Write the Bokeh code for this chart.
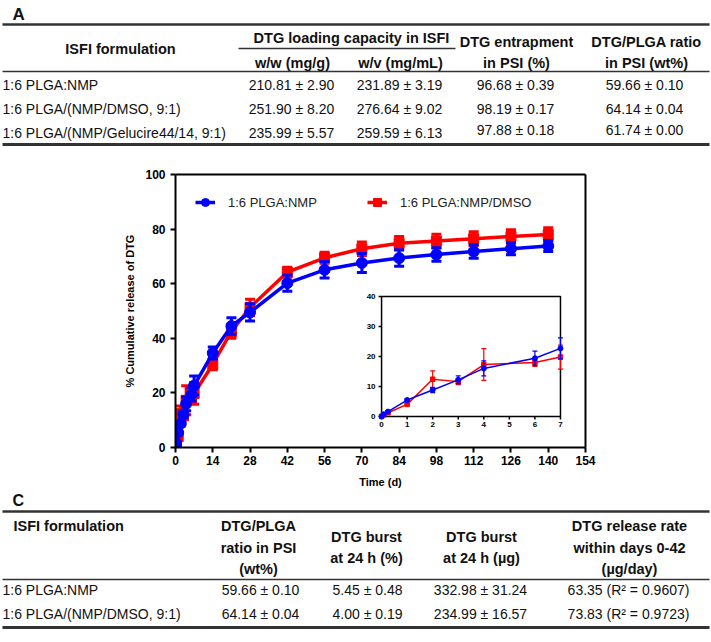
import numpy as np
import pandas as pd
from bokeh.plotting import figure
from bokeh.layouts import column, row
from bokeh.models import (ColumnDataSource, Range1d, LinearAxis, FixedTicker,
                          Legend, LegendItem)
from bokeh.core.properties import value
from bokeh.embed import file_html
from bokeh.resources import INLINE

# ====================== DATA ======================
# --- Table A ---
A_formulation = ["1:6 PLGA:NMP", "1:6 PLGA/(NMP/DMSO, 9:1)", "1:6 PLGA/(NMP/Gelucire44/14, 9:1)"]
A_ww = ["210.81 ± 2.90", "251.90 ± 8.20", "235.99 ± 5.57"]
A_wv = ["231.89 ± 3.19", "276.64 ± 9.02", "259.59 ± 6.13"]
A_entrap = ["96.68 ± 0.39", "98.19 ± 0.17", "97.88 ± 0.18"]
A_ratio = ["59.66 ± 0.10", "64.14 ± 0.04", "61.74 ± 0.00"]

# --- Table C ---
C_formulation = ["1:6 PLGA:NMP", "1:6 PLGA/(NMP/DMSO, 9:1)"]
C_ratio = ["59.66 ± 0.10", "64.14 ± 0.04"]
C_burst_pct = ["5.45 ± 0.48", "4.00 ± 0.19"]
C_burst_ug = ["332.98 ± 31.24", "234.99 ± 16.57"]
C_rate = ["63.35 (R² = 0.9607)", "73.83 (R² = 0.9723)"]

# --- Chart B: cumulative release (%) ---
time_d = [0, 0.083, 0.25, 1, 2, 3, 4, 6, 7, 14, 21, 28, 42, 56, 70, 84, 98, 112, 126, 140]
nmp_mean = [0.0, 0.7, 1.6, 5.45, 8.8, 12.2, 16.0, 19.4, 22.7, 34.6, 44.5, 49.5,
            60.2, 65.1, 67.6, 69.4, 70.7, 71.8, 72.8, 73.8]
nmp_sd = [0.0, 0.2, 0.3, 0.48, 0.9, 1.3, 2.5, 2.4, 3.5, 2.2, 3.0, 3.2,
          3.0, 3.0, 3.5, 3.0, 2.5, 2.5, 2.2, 2.0]
dmso_mean = [0.0, 0.5, 1.2, 4.00, 12.4, 11.6, 17.3, 18.0, 19.8, 30.5, 42.5, 51.3,
             64.2, 69.5, 72.8, 74.8, 75.6, 76.5, 77.3, 78.0]
dmso_sd = [0.0, 0.2, 0.3, 0.19, 2.8, 1.0, 5.3, 1.3, 4.0, 2.0, 2.5, 3.0,
           1.8, 2.0, 2.5, 2.5, 2.5, 2.5, 2.5, 2.5]
series_labels = ["1:6 PLGA:NMP", "1:6 PLGA:NMP/DMSO"]

x_ticks = [0, 14, 28, 42, 56, 70, 84, 98, 112, 126, 140, 154]
y_ticks = [0, 20, 40, 60, 80, 100]
inset_x_ticks = [0, 1, 2, 3, 4, 5, 6, 7]
inset_y_ticks = [0, 10, 20, 30, 40]

# ====================== STYLE / LAYOUT ======================
FONT = "Liberation Sans"
BLUE = "#0000ff"
RED = "#ff0000"
INK = "#111111"
RULE = "#333333"
W = 711


def table_fig(top, bottom):
    p = figure(width=W, height=bottom - top, x_range=Range1d(0, W),
               y_range=Range1d(bottom, top), output_backend="svg",
               toolbar_location=None, x_axis_type=None, y_axis_type=None,
               min_border=0, outline_line_color=None)
    p.grid.visible = False
    return p


def txt(p, xs, ys, texts, align="center", bold=False, size="14px"):
    src = ColumnDataSource(dict(x=list(xs), y=list(ys), t=list(texts)))
    p.text(x="x", y="y", text="t", source=src, text_align=align,
           text_baseline="middle", text_font=value(FONT), text_font_size=size,
           text_font_style="bold" if bold else "normal", text_color=INK)


def rule(p, y, x0=2, x1=709, lw=1.3):
    p.segment(x0=[x0], y0=[y], x1=[x1], y1=[y], line_color=RULE, line_width=lw)


# ---------------- Table A ----------------
pA = table_fig(0, 153)
txt(pA, [12], [14], ["A"], align="left", bold=True, size="17px")
rule(pA, 24, lw=2.5)
rule(pA, 48, 238, 455)
rule(pA, 71)
rule(pA, 144, lw=2.8)
txt(pA, [120], [48], ["ISFI formulation"], bold=True, size="14.5px")
txt(pA, [351], [37], ["DTG loading capacity in ISFI"], bold=True, size="14.5px")
txt(pA, [292, 400], [62, 62], ["w/w (mg/g)", "w/v (mg/mL)"], bold=True, size="14.5px")
txt(pA, [516, 516], [41, 62], ["DTG entrapment", "in PSI (%)"], bold=True, size="14.5px")
txt(pA, [646, 646], [41, 62], ["DTG/PLGA ratio", "in PSI (wt%)"], bold=True, size="14.5px")
A_rows = [84, 108, 132]
A_rows_right = [84, 108, 129]
txt(pA, [2] * 3, A_rows, A_formulation, align="left")
txt(pA, [291] * 3, A_rows, A_ww)
txt(pA, [399] * 3, A_rows, A_wv)
txt(pA, [515] * 3, A_rows_right, A_entrap)
txt(pA, [644] * 3, A_rows_right, A_ratio)

# ---------------- Chart B ----------------
XMIN, XMAX = 0, 154
YMIN, YMAX = 0, 100
pB = figure(width=W, height=338, x_range=Range1d(XMIN, XMAX),
            y_range=Range1d(YMIN, YMAX), output_backend="svg",
            toolbar_location=None, x_axis_type=None, y_axis_type=None,
            min_border_left=175, min_border_right=126, min_border_top=21,
            min_border_bottom=44, outline_line_color=None)


def style_axis(ax, fs="12px"):
    ax.axis_line_width = 2
    ax.axis_line_color = "black"
    ax.major_tick_line_width = 2
    ax.major_tick_line_color = "black"
    ax.major_tick_out = 5
    ax.major_tick_in = 0
    ax.minor_tick_line_color = None
    ax.major_label_text_font = FONT
    ax.major_label_text_font_style = "bold"
    ax.major_label_text_font_size = fs
    ax.major_label_text_color = "black"
    ax.axis_label_text_font = FONT
    ax.axis_label_text_font_style = "bold"
    ax.axis_label_text_font_size = "11px"
    ax.axis_label_text_color = "black"


xax = LinearAxis(ticker=FixedTicker(ticks=x_ticks), axis_label="Time (d)")
style_axis(xax)
xax.major_label_standoff = 3
xax.axis_label_standoff = 8
pB.add_layout(xax, "below")

yax = LinearAxis(ticker=FixedTicker(ticks=y_ticks), axis_label="% Cumulative release of DTG")
style_axis(yax)
yax.major_label_standoff = 5
yax.axis_label_standoff = 6
pB.add_layout(yax, "left")

for place in ("above", "right"):
    border = LinearAxis(ticker=FixedTicker(ticks=[]))
    style_axis(border)
    border.major_tick_line_color = None
    border.major_label_text_font_size = "0px"
    pB.add_layout(border, place)

df = pd.DataFrame(dict(t=time_d, nmp=nmp_mean, nmp_sd=nmp_sd,
                       dmso=dmso_mean, dmso_sd=dmso_sd))
df["nmp_lo"] = df.nmp - df.nmp_sd
df["nmp_hi"] = df.nmp + df.nmp_sd
df["dmso_lo"] = df.dmso - df.dmso_sd
df["dmso_hi"] = df.dmso + df.dmso_sd
src = ColumnDataSource(df)
inset_df = df[df.t <= 7].reset_index(drop=True)
isrc = ColumnDataSource(inset_df)

legend_renderers = {}
for key, color, marker, msize in (("dmso", RED, "square", 10), ("nmp", BLUE, "circle", 11)):
    ln = pB.line("t", key, source=src, line_color=color, line_width=3.5)
    pB.segment(x0="t", y0=key + "_lo", x1="t", y1=key + "_hi", source=src,
               line_color=color, line_width=3)
    pB.scatter("t", key + "_lo", source=src, marker="dash", size=10,
               line_color=color, line_width=3)
    pB.scatter("t", key + "_hi", source=src, marker="dash", size=10,
               line_color=color, line_width=3)
    pts = pB.scatter("t", key, source=src, marker=marker, size=msize,
                     fill_color=color, line_color=color)
    legend_renderers[key] = [ln, pts]

legend = Legend(items=[LegendItem(label=series_labels[0], renderers=legend_renderers["nmp"]),
                       LegendItem(label=series_labels[1], renderers=legend_renderers["dmso"])],
                location=(20, 235), orientation="horizontal", padding=0, margin=0,
                spacing=13, label_standoff=13, label_width=126, glyph_width=20,
                glyph_height=20, border_line_color=None, background_fill_alpha=0,
                label_text_font=FONT, label_text_font_size="13px",
                label_text_color="#222222")
pB.add_layout(legend)

# ---- inset (same data, days 0-7), placed inside the main frame ----
INSET_LEFT, INSET_RIGHT = 77.4, 144.6      # position in main-chart x units
INSET_BOTTOM, INSET_TOP = 11.4, 55.3       # position in main-chart y units
IX = (0, 7)
IY = (0, 40)
sx = (INSET_RIGHT - INSET_LEFT) / (IX[1] - IX[0])
sy = (INSET_TOP - INSET_BOTTOM) / (IY[1] - IY[0])
pB.extra_x_ranges = {"ix": Range1d(IX[0] - (INSET_LEFT - XMIN) / sx,
                                   IX[1] + (XMAX - INSET_RIGHT) / sx)}
pB.extra_y_ranges = {"iy": Range1d(IY[0] - (INSET_BOTTOM - YMIN) / sy,
                                   IY[1] + (YMAX - INSET_TOP) / sy)}
R = dict(x_range_name="ix", y_range_name="iy")

pB.quad(left=[IX[0]], right=[IX[1]], bottom=[IY[0]], top=[IY[1]],
        fill_color="white", line_color="black", line_width=1.5, **R)
pB.ray(x=inset_x_ticks, y=[IY[0]] * len(inset_x_ticks), length=3,
       length_units="screen", angle=-np.pi / 2, line_color="black",
       line_width=1.5, **R)
pB.ray(x=[IX[0]] * len(inset_y_ticks), y=inset_y_ticks, length=3,
       length_units="screen", angle=np.pi, line_color="black",
       line_width=1.5, **R)
pB.text(x=inset_x_ticks, y=[IY[0]] * len(inset_x_ticks),
        text=[str(v) for v in inset_x_ticks], text_align="center",
        text_baseline="top", y_offset=6, text_font=value(FONT),
        text_font_size="8px", text_font_style="bold", text_color="black", **R)
pB.text(x=[IX[0]] * len(inset_y_ticks), y=inset_y_ticks,
        text=[str(v) for v in inset_y_ticks], text_align="right",
        text_baseline="middle", x_offset=-6, text_font=value(FONT),
        text_font_size="8px", text_font_style="bold", text_color="black", **R)

for key, color, marker, msize in (("dmso", RED, "square", 4.5), ("nmp", BLUE, "circle", 5)):
    pB.line("t", key, source=isrc, line_color=color, line_width=1.5, **R)
    pB.segment(x0="t", y0=key + "_lo", x1="t", y1=key + "_hi", source=isrc,
               line_color=color, line_width=1.2, **R)
    pB.scatter("t", key + "_lo", source=isrc, marker="dash", size=5,
               line_color=color, line_width=1.2, **R)
    pB.scatter("t", key + "_hi", source=isrc, marker="dash", size=5,
               line_color=color, line_width=1.2, **R)
    pB.scatter("t", key, source=isrc, marker=marker, size=msize,
               fill_color=color, line_color=color, **R)

# ---------------- Table C ----------------
pC = table_fig(491, 642)
txt(pC, [12], [500], ["C"], align="left", bold=True, size="16px")
rule(pC, 511, lw=2.5)
rule(pC, 579)
rule(pC, 627, lw=2.8)
txt(pC, [13], [525], ["ISFI formulation"], align="left", bold=True, size="14.5px")
txt(pC, [258] * 3, [525, 547, 568], ["DTG/PLGA", "ratio in PSI", "(wt%)"], bold=True, size="14.5px")
txt(pC, [366] * 2, [536, 557], ["DTG burst", "at 24 h (%)"], bold=True, size="14.5px")
txt(pC, [481] * 2, [536, 557], ["DTG burst", "at 24 h (µg)"], bold=True, size="14.5px")
txt(pC, [629] * 3, [525, 547, 568], ["DTG release rate", "within days 0-42", "(µg/day)"],
    bold=True, size="14.5px")
C_rows = [589, 613]
txt(pC, [2] * 2, C_rows, C_formulation, align="left")
txt(pC, [260] * 2, C_rows, C_ratio)
txt(pC, [367] * 2, C_rows, C_burst_pct)
txt(pC, [480] * 2, C_rows, C_burst_ug)
txt(pC, [628] * 2, C_rows, C_rate)

layout = column(row(pA), row(pB), row(pC), spacing=0)
open("out.html", "w").write(file_html(layout, INLINE))
